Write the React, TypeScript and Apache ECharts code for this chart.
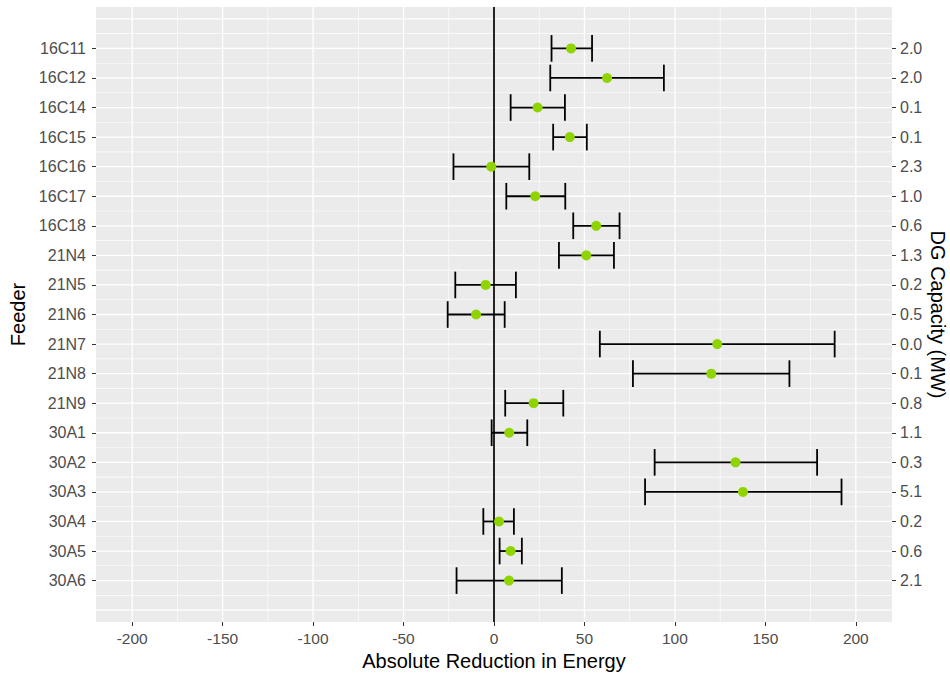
import React, { useEffect, useRef } from "react";
import * as echarts from "echarts";

const feeders = ["16C11","16C12","16C14","16C15","16C16","16C17","16C18","21N4","21N5","21N6","21N7","21N8","21N9","30A1","30A2","30A3","30A4","30A5","30A6"];
const capacities = ["2.0","2.0","0.1","0.1","2.3","1.0","0.6","1.3","0.2","0.5","0.0","0.1","0.8","1.1","0.3","5.1","0.2","0.6","2.1"];
const means = [42.6,62.5,24.1,41.9,-1.5,22.8,56.5,51.0,-4.6,-9.9,123.4,120.1,21.9,8.4,133.5,137.6,2.8,9.2,8.3];
const lows = [31.8,31.1,9.2,32.7,-22.4,6.8,43.8,35.9,-21.4,-25.6,58.5,76.8,6.2,-1.3,88.8,83.5,-5.9,3.1,-20.7];
const highs = [54.2,93.9,39.2,51.3,19.5,39.4,69.4,66.3,12.1,5.9,188.3,163.3,38.3,18.4,178.6,192.1,11.0,15.4,37.5];
const xTicks = [-200,-150,-100,-50,0,50,100,150,200];
const xMinor = [-175,-125,-75,-25,25,75,125,175];
const yMajor = [-1,0,1,2,3,4,5,6,7,8,9,10,11,12,13,14,15,16,17,18,19];
const yMinor = [-0.5,0.5,1.5,2.5,3.5,4.5,5.5,6.5,7.5,8.5,9.5,10.5,11.5,12.5,13.5,14.5,15.5,16.5,17.5,18.5];
const yLabelPos = feeders.map((_, i) => i);

const FONT = "Liberation Sans, Arial, sans-serif";

export default function App() {
  const ref = useRef<HTMLDivElement>(null);
  useEffect(() => {
    document.body.style.margin = "0";
    const chart = echarts.init(ref.current!, null, { renderer: "svg" });

    const yAxisBase = {
      type: "value",
      inverse: true,
      min: -1.4,
      max: 19.4,
      splitLine: { show: false },
      axisLine: { show: false, onZero: false },
      axisTick: { show: true, customValues: yLabelPos, length: 4, lineStyle: { color: "#333333", width: 1 } },
      nameLocation: "middle",
      nameTextStyle: { color: "#000", fontSize: 20, fontFamily: FONT },
    };

    chart.setOption({
      animation: false,
      grid: { left: 96, right: 58, top: 7, bottom: 51, show: true, backgroundColor: "#EBEBEB", borderWidth: 0, containLabel: false, outerBoundsMode: "none" },
      xAxis: {
        type: "value",
        min: -220,
        max: 220,
        splitLine: { show: false },
        axisLine: { show: false, onZero: false },
        axisTick: { show: true, customValues: xTicks, length: 4, lineStyle: { color: "#333333", width: 1 } },
        axisLabel: { customValues: xTicks, color: "#4D4D4D", fontSize: 15.5, fontFamily: FONT, margin: 8 },
        name: "Absolute Reduction in Energy",
        nameLocation: "middle",
        nameGap: 29,
        nameTextStyle: { color: "#000", fontSize: 20, fontFamily: FONT },
      },
      yAxis: [
        {
          ...yAxisBase,
          position: "left",
          axisLabel: { customValues: yLabelPos, color: "#4D4D4D", fontSize: 16, fontFamily: FONT, margin: 10, formatter: (v: number) => feeders[Math.round(v)] ?? "" },
          name: "Feeder",
          nameGap: 68,
        },
        {
          ...yAxisBase,
          position: "right",
          axisLabel: { customValues: yLabelPos, color: "#4D4D4D", fontSize: 16, fontFamily: FONT, margin: 8, formatter: (v: number) => capacities[Math.round(v)] ?? "" },
          name: "DG Capacity (MW)",
          nameRotate: -90,
          nameMoveOverlap: false,
          nameGap: 36,
        },
      ],
      series: [
        {
          type: "custom",
          z: 1,
          silent: true,
          data: [[0, 0]],
          encode: { x: 0, y: 1 },
          renderItem: (params: any, api: any) => {
            const cs = params.coordSys;
            const children: any[] = [];
            const vline = (v: number, w: number, c: string) => {
              const p = api.coord([v, 0]);
              children.push({ type: "rect", shape: { x: p[0] - w / 2, y: cs.y, width: w, height: cs.height }, style: { fill: c } });
            };
            const hline = (v: number, w: number) => {
              const p = api.coord([0, v]);
              children.push({ type: "rect", shape: { x: cs.x, y: p[1] - w / 2, width: cs.width, height: w }, style: { fill: "#FFFFFF" } });
            };
            xMinor.forEach((v) => vline(v, 0.6, "#FFFFFF"));
            yMinor.forEach((v) => hline(v, 0.6));
            xTicks.forEach((v) => vline(v, 1.3, "#FFFFFF"));
            yMajor.forEach((v) => hline(v, 1.3));
            vline(0, 1.7, "#000000");
            return { type: "group", children };
          },
        },
        {
          type: "custom",
          z: 3,
          silent: true,
          data: feeders.map((_, i) => [i, lows[i], highs[i]]),
          encode: { x: [1, 2], y: 0 },
          renderItem: (params: any, api: any) => {
            const i = api.value(0);
            const a = api.coord([api.value(1), i]);
            const b = api.coord([api.value(2), i]);
            const h = api.size([0, 0.45])[1];
            const st = { stroke: "#000000", lineWidth: 1.8 };
            return {
              type: "group",
              children: [
                { type: "line", shape: { x1: a[0], y1: a[1], x2: b[0], y2: b[1] }, style: st },
                { type: "line", shape: { x1: a[0], y1: a[1] - h, x2: a[0], y2: a[1] + h }, style: st },
                { type: "line", shape: { x1: b[0], y1: b[1] - h, x2: b[0], y2: b[1] + h }, style: st },
              ],
            };
          },
        },
        {
          type: "scatter",
          z: 4,
          symbolSize: 10,
          itemStyle: { color: "#8FD400", opacity: 1 },
          data: feeders.map((_, i) => [means[i], i]),
        },
      ],
    });
    return () => chart.dispose();
  }, []);
  return <div ref={ref} style={{ width: 950, height: 673 }} />;
}
